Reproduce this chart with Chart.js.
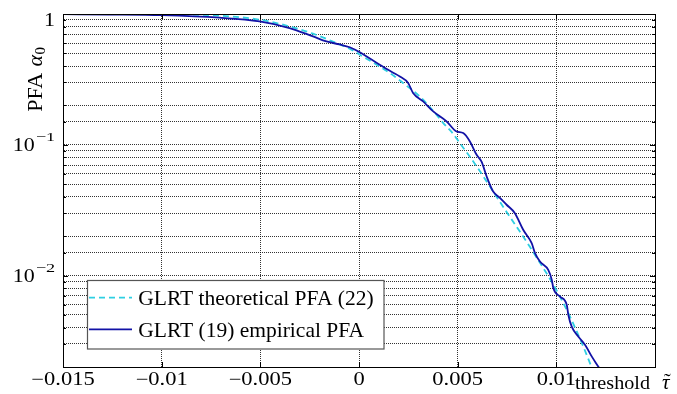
<!DOCTYPE html>
<html>
<head>
<meta charset="utf-8">
<script src="https://cdn.jsdelivr.net/npm/chart.js@4/dist/chart.umd.min.js"></script>
<style>
  html, body { margin: 0; padding: 0; background: #fff; }
  #wrap { width: 677px; height: 394px; }
</style>
</head>
<body>
<div id="wrap"><canvas id="pfaChart" width="677" height="394"></canvas></div>
<script>
// threshold values and PFA
const xTheo = [-0.015, -0.01265, -0.01, -0.00707, -0.00504, -0.00352, -0.00233, -0.00115, -0.00047,
  0.00012, 0.00071, 0.0013, 0.00181, 0.00223, 0.00308, 0.00376, 0.00426, 0.00477, 0.00511,
  0.00562, 0.00613, 0.00663, 0.00714, 0.00765, 0.00816, 0.00866, 0.00917, 0.00968, 0.01019,
  0.0107, 0.0112, 0.01171, 0.01196];
const yTheo = [1.0, 0.999, 0.995, 0.971, 0.905, 0.804, 0.707, 0.6, 0.543,
  0.48, 0.426, 0.375, 0.333, 0.297, 0.234, 0.182, 0.1473, 0.1214, 0.103,
  0.081, 0.0627, 0.0481, 0.0366, 0.0281, 0.0216, 0.01658, 0.01251, 0.00943, 0.00687,
  0.00483, 0.00328, 0.00213, 0.00168];

const xEmp = [-0.015, -0.01265, -0.01, -0.00707, -0.00504, -0.00352, -0.00233, -0.00165, -0.00098,
  -0.00047, 0.00004, 0.00105, 0.00173, 0.00207, 0.00249, 0.00274, 0.00325, 0.00376, 0.00444,
  0.00494, 0.00528, 0.00562, 0.00596, 0.00621, 0.00647, 0.0068, 0.00714, 0.00748, 0.0079,
  0.00832, 0.00875, 0.00892, 0.00917, 0.00959, 0.00977, 0.00985, 0.01019, 0.01053, 0.01061,
  0.01078, 0.01112, 0.01146, 0.0118, 0.01213, 0.01242];
const yEmp = [0.997, 0.991, 0.979, 0.937, 0.878, 0.781, 0.674, 0.617, 0.585,
  0.557, 0.51, 0.409, 0.356, 0.333, 0.297, 0.249, 0.2145, 0.18, 0.1508,
  0.1264, 0.1229, 0.106, 0.0838, 0.0745, 0.0572, 0.0439, 0.0393, 0.0348, 0.03,
  0.0224, 0.0177, 0.01484, 0.0128, 0.01105, 0.00927, 0.00801, 0.00691, 0.00597, 0.005,
  0.00407, 0.00341, 0.00295, 0.0024, 0.00201, 0.00171];

const seriesLabels = ['GLRT theoretical PFA (22)', 'GLRT (19) empirical PFA'];

const xTickValues = [-0.015, -0.01, -0.005, 0, 0.005, 0.01];
const xTickLabels = ['\u22120.015', '\u22120.01', '\u22120.005', '0', '0.005', '0.01'];
const yTickValues = [1, 0.1, 0.01];
const yTickBases = ['1', '10', '10'];
const yTickExps = ['', '\u22121', '\u22122'];

const SERIF = "'Liberation Serif', 'Times New Roman', serif";
const CYAN = '#2fcfe2';
const BLUE = '#1212a6';

// draw text squeezed/stretched horizontally, returns drawn width
function wideText(ctx, str, x, y, font, sx, align) {
  ctx.save();
  ctx.font = font;
  const w = ctx.measureText(str).width * sx;
  let x0 = x;
  if (align === 'center') x0 = x - w / 2;
  else if (align === 'right') x0 = x - w;
  ctx.translate(x0, y);
  ctx.scale(sx, 1);
  ctx.textAlign = 'left';
  ctx.textBaseline = 'alphabetic';
  ctx.fillStyle = '#000';
  ctx.fillText(str, 0, 0);
  ctx.restore();
  return w;
}

const decorPlugin = {
  id: 'decor',
  afterDraw(chart) {
    const ctx = chart.ctx;
    const a = chart.chartArea;
    const xs = chart.scales.x;
    const ys = chart.scales.y;

    // frame
    ctx.save();
    ctx.strokeStyle = '#000';
    ctx.lineWidth = 1;
    ctx.strokeRect(Math.round(a.left) + 0.5, Math.round(a.top) + 0.5,
      Math.round(a.right) - Math.round(a.left), Math.round(a.bottom) - Math.round(a.top));

    // tick marks on all sides
    ctx.beginPath();
    xTickValues.forEach((v) => {
      const px = Math.round(xs.getPixelForValue(v)) + 0.5;
      ctx.moveTo(px, a.bottom); ctx.lineTo(px, a.bottom - 5);
      ctx.moveTo(px, a.top); ctx.lineTo(px, a.top + 5);
    });
    ys.ticks.forEach((t) => {
      const py = Math.round(ys.getPixelForValue(t.value)) + 0.5;
      const major = yTickValues.some((v) => Math.abs(Math.log10(v) - Math.log10(t.value)) < 1e-6);
      const len = major ? 5 : 3;
      ctx.moveTo(a.left, py); ctx.lineTo(a.left + len, py);
      ctx.moveTo(a.right, py); ctx.lineTo(a.right - len, py);
    });
    ctx.stroke();
    ctx.restore();

    // x tick labels
    xTickValues.forEach((v, i) => {
      wideText(ctx, xTickLabels[i], xs.getPixelForValue(v), a.bottom + 17.5,
        '18px ' + SERIF, 1.25, 'center');
    });

    // y tick labels (10 with superscript exponent)
    yTickValues.forEach((v, i) => {
      const py = ys.getPixelForValue(v);
      const base = Math.max(py + 6.3, a.top + 12.4);
      const right = a.left - 8;
      ctx.save();
      ctx.font = '18px ' + SERIF;
      const wb = ctx.measureText(yTickBases[i]).width * 1.22;
      ctx.font = '13px ' + SERIF;
      const we = yTickExps[i] ? ctx.measureText(yTickExps[i]).width * 1.4 + 1 : 0;
      ctx.restore();
      const start = right - wb - we;
      wideText(ctx, yTickBases[i], start, base, '18px ' + SERIF, 1.22, 'left');
      if (yTickExps[i]) {
        wideText(ctx, yTickExps[i], start + wb + 1, base - 10, '13px ' + SERIF, 1.4, 'left');
      }
    });

    // x axis title
    wideText(ctx, 'threshold', 575, 389, '19px ' + SERIF, 1.06, 'left');
    ctx.save();
    ctx.font = 'italic 21px ' + SERIF;
    ctx.fillStyle = '#000';
    ctx.textAlign = 'left';
    ctx.fillText('\u03c4', 662, 389);
    const tw = ctx.measureText('\u03c4').width;
    ctx.font = '21px ' + SERIF;
    ctx.textAlign = 'center';
    ctx.fillText('\u02dc', 662 + tw / 2 + 1.5, 388);
    ctx.restore();

    // y axis title, rotated
    ctx.save();
    ctx.translate(41.7, 111.7);
    ctx.rotate(-Math.PI / 2);
    ctx.fillStyle = '#000';
    ctx.textBaseline = 'alphabetic';
    ctx.textAlign = 'left';
    ctx.font = '22px ' + SERIF;
    ctx.fillText('PFA', 0, 0);
    let off = ctx.measureText('PFA ').width + 1;
    ctx.font = 'italic 22px ' + SERIF;
    ctx.fillText('\u03b1', off, 0);
    off += ctx.measureText('\u03b1').width + 0.5;
    ctx.font = '15px ' + SERIF;
    ctx.fillText('0', off, 3);
    ctx.restore();

    // legend box
    const lx = 87.5, ly = 280.5, lw = 296.5, lh = 68.5;
    ctx.save();
    ctx.fillStyle = '#fff';
    ctx.fillRect(lx, ly, lw, lh);
    ctx.strokeStyle = '#555';
    ctx.lineWidth = 1.2;
    ctx.strokeRect(lx, ly, lw, lh);
    const rows = [297.7, 329.3];
    chart.data.datasets.forEach((ds, i) => {
      ctx.save();
      ctx.strokeStyle = ds.borderColor;
      ctx.lineWidth = ds.borderWidth;
      ctx.setLineDash(ds.borderDash || []);
      ctx.beginPath();
      ctx.moveTo(89, rows[i]);
      ctx.lineTo(132, rows[i]);
      ctx.stroke();
      ctx.restore();
      wideText(ctx, ds.label, 138.3, rows[i] + 7.3, '21.5px ' + SERIF, 1.0, 'left');
    });
    ctx.restore();
  },
};

const gridStyle = { color: 'rgba(0,0,0,0.8)', lineWidth: 1, drawTicks: false, borderDash: [1, 1] };

new Chart(document.getElementById('pfaChart').getContext('2d'), {
  type: 'line',
  data: {
    datasets: [
      {
        label: seriesLabels[0],
        data: xTheo.map((v, i) => ({ x: v, y: yTheo[i] })),
        borderColor: CYAN,
        borderWidth: 1.8,
        borderDash: [6, 4],
        pointRadius: 0,
        fill: false,
        cubicInterpolationMode: 'monotone',
        order: 2,
      },
      {
        label: seriesLabels[1],
        data: xEmp.map((v, i) => ({ x: v, y: yEmp[i] })),
        borderColor: BLUE,
        borderWidth: 1.8,
        pointRadius: 0,
        fill: false,
        cubicInterpolationMode: 'monotone',
        order: 1,
      },
    ],
  },
  options: {
    responsive: false,
    animation: false,
    layout: { padding: { left: 63, top: 14, right: 22, bottom: 27 } },
    plugins: { legend: { display: false }, tooltip: { enabled: false } },
    scales: {
      x: {
        type: 'linear',
        min: -0.015,
        max: 0.015,
        ticks: { display: false, stepSize: 0.005, autoSkip: false },
        grid: gridStyle,
        border: { display: true, color: '#000', width: 1, dash: [1, 1] },
      },
      y: {
        type: 'logarithmic',
        min: 0.002,
        max: 1,
        ticks: { display: false, autoSkip: false },
        grid: gridStyle,
        border: { display: true, color: '#000', width: 1, dash: [1, 1] },
      },
    },
  },
  plugins: [decorPlugin],
});
</script>
</body>
</html>
